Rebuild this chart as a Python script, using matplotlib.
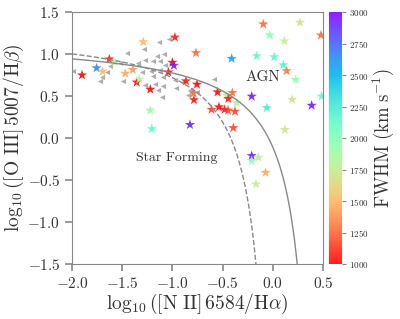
import numpy as np
import matplotlib
matplotlib.use("Agg")
import matplotlib.pyplot as plt

plt.rcParams['font.family'] = 'serif'
plt.rcParams['font.serif'] = ['cmr10']
plt.rcParams['mathtext.fontset'] = 'cm'
plt.rcParams['axes.formatter.use_mathtext'] = True

# stars: log([N II]/Ha), log([O III]/Hb), FWHM
star_x = [-1.90, -1.755, -1.695, -1.628, -1.572, -1.29, -0.975, -0.765, -1.47, -1.395,
          -1.00, -0.985, -1.04, -1.355, -1.33, -1.22, -0.865, -0.755, -0.79, -0.785,
          -1.22, -1.205, -0.825, -0.095, 0.27, 0.48, -0.03, 0.115, -0.41, -0.16,
          0.015, 0.105, 0.138, 0.228, -0.55, -0.403, -0.46, -0.443, -0.36, -0.21,
          0.194, -0.06, 0.387, 0.487, -0.61, -0.536, -0.48, -0.445, -0.376, -0.393,
          0.121, -0.21, -0.21, -0.144, -0.071, -0.167]
star_y = [0.75, 0.835, 0.795, 0.94, 0.905, 1.145, 1.20, 1.015, 0.77, 0.815,
          0.90, 0.865, 0.785, 0.665, 0.70, 0.58, 0.68, 0.64, 0.535, 0.455,
          0.33, 0.11, 0.16, 1.357, 1.377, 1.225, 1.225, 1.155, 0.947, 0.978,
          0.966, 0.87, 0.80, 0.696, 0.548, 0.54, 0.51, 0.469, 0.42, 0.497,
          0.46, 0.36, 0.389, 0.497, 0.34, 0.37, 0.34, 0.33, 0.317, 0.122,
          0.102, -0.21, -0.27, -0.23, -0.41, -0.547]
star_fwhm = [1000, 2650, 1500, 1050, 1850, 1500, 1050, 1250, 1450, 1400,
             1000, 2950, 1000, 1000, 1800, 1000, 1050, 1000, 1250, 1050,
             1900, 2150, 2900, 1250, 1700, 1250, 2000, 1750, 2600, 2150,
             2150, 2200, 1300, 1950, 1000, 1250, 1850, 1050, 1850, 2950,
             1700, 2250, 2950, 2150, 1150, 1000, 1050, 1150, 1150, 1150,
             1700, 2950, 1950, 1750, 1450, 1750]

# comparison sample (grey triangles)
tri_x = [-1.13, -1.03, -1.28, -1.45, -1.155, -1.08, -1.27, -1.19, -1.12, -1.34,
         -1.07, -1.62, -1.52, -1.655, -1.705, -1.99, -1.72, -1.49, -1.30, -1.21,
         -1.19, -1.125, -1.09, -1.27, -1.17, -1.09, -0.975, -0.96, -0.89, -1.14,
         -1.107, -0.842, -0.825, -0.59, -0.75]
tri_y = [1.145, 1.175, 1.06, 1.01, 0.98, 1.0, 0.93, 0.92, 0.92, 0.89,
         0.87, 0.855, 0.90, 0.79, 0.73, 0.80, 0.675, 0.685, 0.79, 0.795,
         0.74, 0.81, 0.73, 0.63, 0.645, 0.615, 0.69, 0.60, 0.67, 0.568,
         0.488, 0.508, 0.568, 0.70, 0.55]

fig = plt.figure(figsize=(4.0, 3.19), dpi=100)
ax = fig.add_axes([0.18, 0.172, 0.6275, 0.79])
cax = fig.add_axes([0.823, 0.172, 0.033, 0.79])

grey = '#888888'
txt = '#333333'

# Kewley 2001 and Kauffmann 2003 demarcation lines
xk = np.linspace(-2.0, 0.46, 500)
yk = 0.61 / (xk - 0.47) + 1.19
ax.plot(xk, yk, color=grey, lw=1.0)
xf = np.linspace(-2.0, 0.04, 500)
yf = 0.61 / (xf - 0.05) + 1.3
ax.plot(xf, yf, color=grey, lw=1.0, ls='--')

ax.scatter(tri_x, tri_y, marker='<', s=14, color='#999999', alpha=0.8, lw=0)
sc = ax.scatter(star_x, star_y, c=star_fwhm, cmap='rainbow_r', vmin=1000, vmax=3000,
                marker='*', s=60, alpha=0.88, lw=0)

ax.text(-0.1, 0.73, 'AGN', fontsize=11, color=txt, ha='center', va='center')
ax.text(-0.96, -0.23, 'Star Forming', fontsize=10, color=txt, ha='center', va='center')

ax.set_xlim(-2.0, 0.5)
ax.set_ylim(-1.5, 1.5)
ax.set_xticks(np.arange(-2.0, 0.51, 0.5))
ax.set_yticks(np.arange(-1.5, 1.51, 0.5))
ax.set_xlabel(r'$\log_{10}([\mathrm{N\ II}]\,6584/\mathrm{H}\alpha)$', fontsize=14, color=txt, labelpad=1)
ax.set_ylabel(r'$\log_{10}([\mathrm{O\ III}]\,5007/\mathrm{H}\beta)$', fontsize=14, color=txt, labelpad=1)
for s in ax.spines.values():
    s.set_color(grey)
ax.tick_params(colors=grey, labelcolor=txt, labelsize=11, length=5, width=1.2)

cb = fig.colorbar(sc, cax=cax)
cb.set_ticks(np.arange(1000, 3001, 250))
cb.outline.set_visible(False)
cax.tick_params(colors=grey, labelcolor=txt, labelsize=6.5, length=3, pad=1.5)
cb.set_label(r'$\mathrm{FWHM\ (km\ s^{-1})}$', fontsize=13.5, color=txt, labelpad=2)

fig.savefig('out.png', dpi=100)
